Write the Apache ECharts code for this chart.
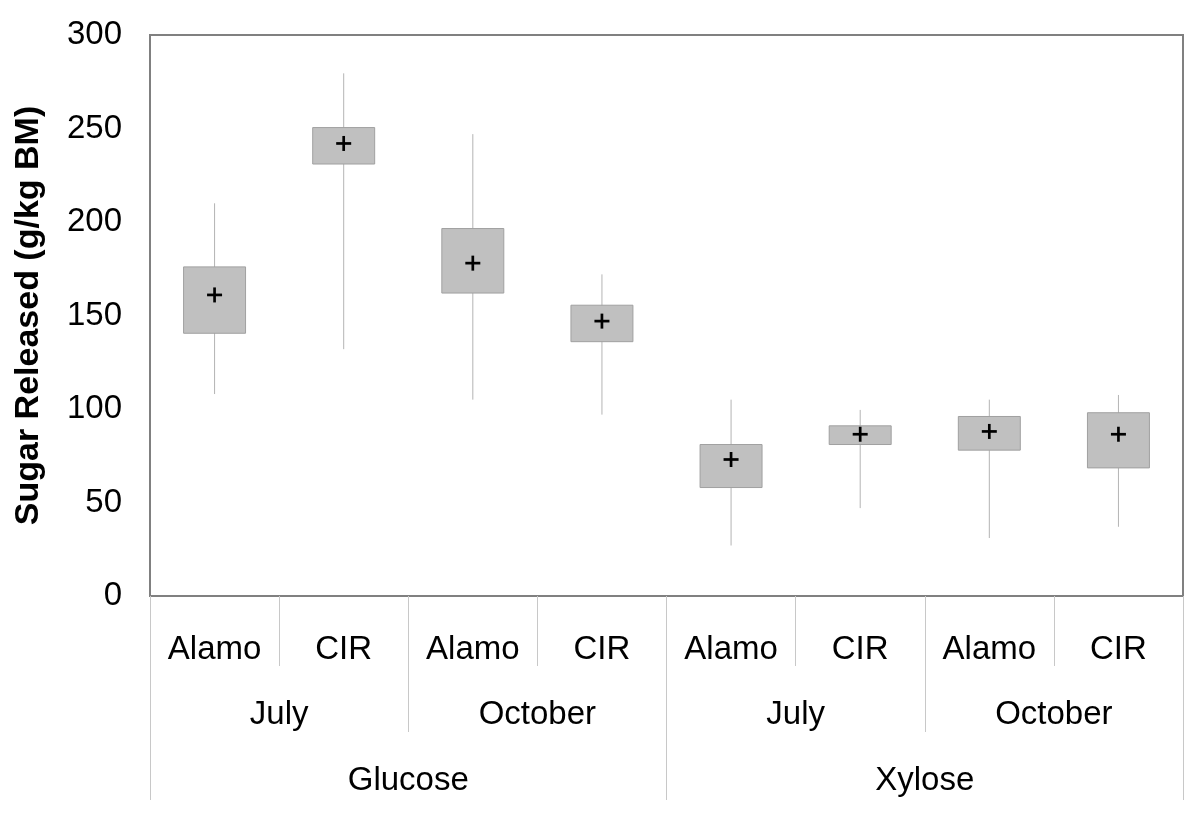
<!DOCTYPE html>
<html>
<head>
<meta charset="utf-8">
<script src="https://cdn.jsdelivr.net/npm/echarts@6/dist/echarts.min.js"></script>
<style>
  html, body { margin: 0; padding: 0; background: #fff; }
  #chart { width: 1200px; height: 817px; }
</style>
</head>
<body>
<div id="chart"></div>
<script>
// category levels
const cultivars = ['Alamo', 'CIR', 'Alamo', 'CIR', 'Alamo', 'CIR', 'Alamo', 'CIR']
const months = ['July', 'October', 'July', 'October']
const sugars = ['Glucose', 'Xylose']

// box values (g/kg BM)
const whiskerLow = [108, 132, 105, 97, 27, 47, 31, 37]
const boxLow = [140.5, 231, 162, 136, 58, 81, 78, 68.5]
const boxHigh = [176, 250.5, 196.5, 155.5, 81, 91, 96, 98]
const whiskerHigh = [210, 279.5, 247, 172, 105, 99.5, 105, 107.5]
const means = [161, 242, 178, 147, 73, 86.5, 88, 86.5]

const yTicks = { min: 0, max: 300, interval: 50 }

const FONT = '"Liberation Sans", Arial, sans-serif'

const boxData = cultivars.map((c, i) => [i, whiskerLow[i], boxLow[i], boxHigh[i], whiskerHigh[i], means[i]])

const chart = echarts.init(document.getElementById('chart'))

// 画箱体、须线和均值十字
const renderBox = (params, api) => {
  const x = api.value(0)
  const lo = api.coord([x, api.value(1)])
  const q1 = api.coord([x, api.value(2)])
  const q3 = api.coord([x, api.value(3)])
  const hi = api.coord([x, api.value(4)])
  const m = api.coord([x, api.value(5)])
  const w = api.size([1, 0])[0] * 0.48
  const p = 7.5
  return {
    type: 'group',
    children: [
      {
        type: 'line',
        shape: { x1: lo[0], y1: lo[1], x2: hi[0], y2: hi[1] },
        style: { stroke: '#b4b4b4', lineWidth: 1 }
      },
      {
        type: 'rect',
        shape: { x: q3[0] - w / 2, y: q3[1], width: w, height: q1[1] - q3[1] },
        style: { fill: '#c0c0c0', stroke: '#a0a0a0', lineWidth: 1 }
      },
      {
        type: 'line',
        shape: { x1: m[0] - p, y1: m[1], x2: m[0] + p, y2: m[1] },
        style: { stroke: '#000', lineWidth: 2.7 }
      },
      {
        type: 'line',
        shape: { x1: m[0], y1: m[1] - p, x2: m[0], y2: m[1] + p },
        style: { stroke: '#000', lineWidth: 2.7 }
      }
    ]
  }
}

const levelAxis = (data, tickLen, margin, showLine) => ({
  type: 'category',
  position: 'bottom',
  data: data,
  axisLine: { show: showLine, lineStyle: { color: '#808080', width: 2 } },
  axisTick: { show: true, length: tickLen, lineStyle: { color: '#c8c8c8', width: 1 } },
  axisLabel: { margin: margin, color: '#000', fontSize: 33, fontFamily: FONT, interval: 0 },
  splitLine: { show: false }
})

const option = {
  animation: false,
  backgroundColor: '#fff',
  grid: {
    left: 150,
    right: 17,
    top: 35,
    bottom: 221,
    show: true,
    borderColor: '#808080',
    borderWidth: 2
  },
  xAxis: [
    levelAxis(cultivars, 70, 37, true),
    levelAxis(months, 136, 102, false),
    levelAxis(sugars, 204, 168, false)
  ],
  yAxis: {
    type: 'value',
    min: yTicks.min,
    max: yTicks.max,
    interval: yTicks.interval,
    name: 'Sugar Released (g/kg BM)',
    nameLocation: 'middle',
    nameGap: 104,
    nameTextStyle: { fontSize: 34, fontWeight: 'bold', color: '#000', fontFamily: FONT },
    axisLine: { show: false },
    axisTick: { show: false },
    splitLine: { show: false },
    axisLabel: { margin: 28, color: '#000', fontSize: 33, fontFamily: FONT }
  },
  series: [
    {
      type: 'custom',
      xAxisIndex: 0,
      renderItem: renderBox,
      encode: { x: 0, y: [1, 2, 3, 4, 5] },
      data: boxData
    }
  ]
}

chart.setOption(option)
</script>
</body>
</html>
